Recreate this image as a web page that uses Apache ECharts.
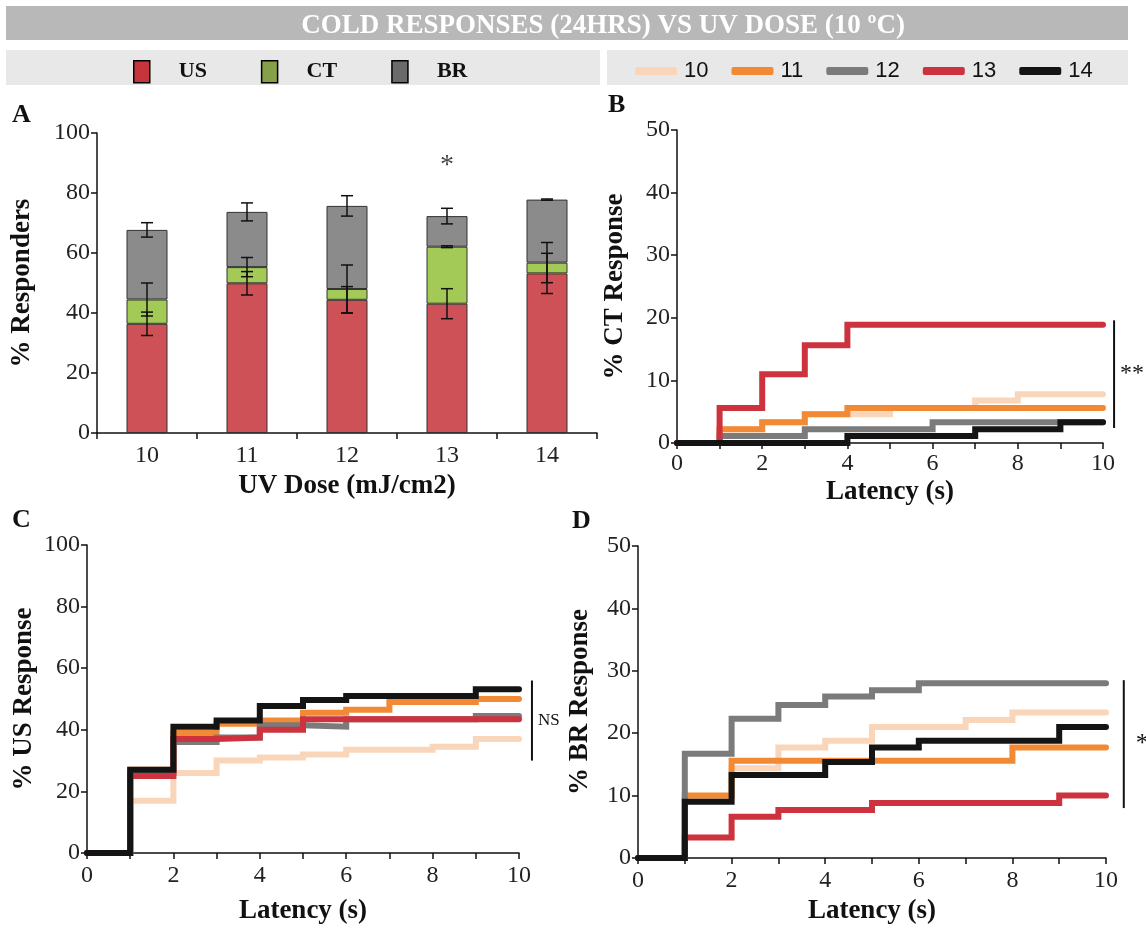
<!DOCTYPE html>
<html>
<head>
<meta charset="utf-8">
<script src="https://cdn.jsdelivr.net/npm/echarts@6/dist/echarts.min.js"></script>
<style>
  html, body { margin: 0; padding: 0; background: #fff; }
  #chart { width: 1146px; height: 930px; }
</style>
</head>
<body>
<div id="chart"></div>
<script>
// ---- data ----
const doses = ['10', '11', '12', '13', '14'];
// stacked % responders by response type
const usPct = [36.4, 49.9, 44.4, 43.1, 53.2];
const ctPct = [8.1, 5.4, 3.6, 19.0, 3.6];
const brPct = [23.2, 18.4, 27.7, 10.2, 21.0];
// error (+/-) of each stacked segment
const usErr = [3.9, 3.9, 4.4, 5.0, 6.7];
const ctErr = [5.5, 3.2, 8.0, 0.3, 6.7];
const brErr = [2.4, 3.0, 3.4, 2.6, 0.2];

// latency axis (s)
const latency = [0, 1, 2, 3, 4, 5, 6, 7, 8, 9, 10];
// cumulative % CT response per dose
const ct10 = [0, 2.2, 3.3, 4.6, 4.6, 5.6, 5.6, 6.8, 7.8, 7.8, 7.8];
const ct11 = [0, 2.2, 3.3, 4.6, 5.6, 5.6, 5.6, 5.6, 5.6, 5.6, 5.6];
const ct12 = [0, 1.1, 1.1, 2.2, 2.2, 2.2, 3.3, 3.3, 3.3, 3.3, 3.3];
const ct13 = [0, 5.6, 11.0, 15.6, 18.9, 18.9, 18.9, 18.9, 18.9, 18.9, 18.9];
const ct14 = [0, 0, 0, 0, 1.1, 1.1, 1.1, 2.2, 2.2, 3.3, 3.3];
// cumulative % US response per dose
const us10 = [0, 17, 26, 30, 31, 32, 33.5, 33.5, 34.5, 37, 37];
const us11 = [0, 27, 39, 42, 43, 45.5, 46.5, 49, 49, 50, 50];
const us12 = [0, 26, 36, 37.5, 41.5, 41, 43.4, 43.4, 43.4, 44.5, 44.5];
const us13 = [0, 25, 37, 37.5, 40, 43.4, 43.4, 43.4, 43.4, 43.4, 43.4];
const us14 = [0, 27, 41, 43, 47.7, 49.7, 51, 51, 51, 53.2, 53.2];
// cumulative % BR response per dose
const br10 = [0, 9.5, 14.4, 17.7, 18.8, 21, 21, 22.1, 23.3, 23.3, 23.3];
const br11 = [0, 10, 15.6, 15.6, 15.6, 15.6, 15.6, 15.6, 17.7, 17.7, 17.7];
const br12 = [0, 16.7, 22.3, 24.5, 25.9, 26.9, 28, 28, 28, 28, 28];
const br13 = [0, 3.3, 6.6, 7.7, 7.7, 8.8, 8.8, 8.8, 8.8, 10, 10];
const br14 = [0, 9.0, 13.3, 13.3, 15.4, 17.7, 18.8, 18.8, 18.8, 21, 21];

// ---- styles ----
const SERIF = '"Liberation Serif", "Times New Roman", serif';
const SANS = '"Liberation Sans", Arial, sans-serif';
const doseColors = { '10': '#f9d5b9', '11': '#f28a35', '12': '#7b7b7b', '13': '#cc333f', '14': '#141414' };
const axisLine = { show: true, lineStyle: { color: '#111', width: 1.5 } };
const axisTick = { show: true, length: 6, lineStyle: { color: '#111', width: 1.5 } };
const tickFont = { fontFamily: SERIF, fontSize: 24, color: '#222' };
const nameFont = { fontFamily: SERIF, fontSize: 27, fontWeight: 'bold', color: '#111' };

const chart = echarts.init(document.getElementById('chart'), null, { renderer: 'canvas' });

const pair = arr => latency.map((t, i) => [t, arr[i]]);

function stepSeries(name, arr, gridIdx) {
  return {
    type: 'line', name: name, step: 'end',
    xAxisIndex: gridIdx, yAxisIndex: gridIdx,
    data: pair(arr), showSymbol: false, symbol: 'none',
    color: doseColors[name],
    lineStyle: { width: 6, color: doseColors[name], cap: 'round', join: 'miter' },
    emphasis: { disabled: true }, animation: false
  };
}

function latencyX(gridIndex, nameGap, margin) {
  return {
    type: 'value', gridIndex: gridIndex, min: 0, max: 10, interval: 1,
    axisLine: axisLine, axisTick: axisTick, splitLine: { show: false },
    axisLabel: Object.assign({ margin: margin, formatter: v => (v % 2 === 0 ? String(v) : '') }, tickFont),
    name: 'Latency (s)', nameLocation: 'middle', nameGap: nameGap, nameTextStyle: nameFont
  };
}
function pctY(gridIndex, max, interval, name, nameGap) {
  return {
    type: 'value', gridIndex: gridIndex, min: 0, max: max, interval: interval,
    axisLine: axisLine, axisTick: axisTick, splitLine: { show: false },
    axisLabel: Object.assign({ margin: 7 }, tickFont),
    name: name, nameLocation: 'middle', nameGap: nameGap, nameRotate: 90, nameTextStyle: nameFont
  };
}

// error bars drawn through the category/value scales of grid A
const errData = [];
doses.forEach((d, i) => {
  errData.push([i, usPct[i], usErr[i]]);
  errData.push([i, usPct[i] + ctPct[i], ctErr[i]]);
  errData.push([i, usPct[i] + ctPct[i] + brPct[i], brErr[i]]);
});

const option = {
  backgroundColor: '#fff',
  animation: false,
  title: {
    text: 'COLD RESPONSES (24HRS) VS UV DOSE (10 ºC)',
    left: 598, top: 8, textAlign: 'center',
    textStyle: { fontFamily: SERIF, fontSize: 27, fontWeight: 'bold', color: '#fff' }
  },
  legend: [
    {
      left: 128, top: 55, orient: 'horizontal', itemGap: 54,
      itemWidth: 16, itemHeight: 22, icon: 'rect',
      textStyle: { fontFamily: SERIF, fontSize: 22, fontWeight: 'bold', color: '#111', padding: [0, 0, 0, 24] },
      data: [
        { name: 'US', itemStyle: { color: '#c8343c', borderColor: '#000', borderWidth: 1.5 } },
        { name: 'CT', itemStyle: { color: '#86a048', borderColor: '#000', borderWidth: 1.5 } },
        { name: 'BR', itemStyle: { color: '#6a6a6a', borderColor: '#000', borderWidth: 1.5 } }
      ],
      selectedMode: false
    },
    {
      left: 630, top: 55, orient: 'horizontal', itemGap: 23,
      itemWidth: 42, itemHeight: 8, icon: 'roundRect',
      textStyle: { fontFamily: SANS, fontSize: 22, color: '#111', padding: [0, 0, 0, 2] },
      data: doses,
      selectedMode: false
    }
  ],
  grid: [
    { left: 97, top: 133, width: 500, height: 300 },
    { left: 677, top: 130, width: 426, height: 313 },
    { left: 87, top: 545, width: 432, height: 308 },
    { left: 638, top: 546, width: 468, height: 312 }
  ],
  xAxis: [
    {
      type: 'category', gridIndex: 0, data: doses,
      axisLine: axisLine, axisTick: Object.assign({ alignWithLabel: false }, axisTick),
      axisLabel: Object.assign({ margin: 11 }, tickFont),
      name: 'UV Dose (mJ/cm2)', nameLocation: 'middle', nameGap: 40, nameTextStyle: nameFont
    },
    latencyX(1, 36, 9),
    latencyX(2, 45, 11),
    latencyX(3, 40, 11)
  ],
  yAxis: [
    pctY(0, 100, 20, '% Responders', 61),
    pctY(1, 50, 10, '% CT Response', 48),
    pctY(2, 100, 20, '% US Response', 49),
    pctY(3, 50, 10, '% BR Response', 44)
  ],
  series: [
    { type: 'bar', name: 'US', stack: 'resp', data: usPct, barWidth: 41, xAxisIndex: 0, yAxisIndex: 0,
      itemStyle: { color: '#cd5157', borderColor: '#333', borderWidth: 1 } },
    { type: 'bar', name: 'CT', stack: 'resp', data: ctPct, barWidth: 41, xAxisIndex: 0, yAxisIndex: 0,
      itemStyle: { color: '#a3c957', borderColor: '#333', borderWidth: 1 } },
    { type: 'bar', name: 'BR', stack: 'resp', data: brPct, barWidth: 41, xAxisIndex: 0, yAxisIndex: 0,
      itemStyle: { color: '#8b8b8b', borderColor: '#333', borderWidth: 1 } },
    {
      type: 'custom', name: 'error', xAxisIndex: 0, yAxisIndex: 0, data: errData, z: 5,
      renderItem: function (params, api) {
        const c = api.value(1), e = api.value(2);
        const top = api.coord([api.value(0), c + e]);
        const bot = api.coord([api.value(0), c - e]);
        const hw = 6, st = { stroke: '#111', lineWidth: 1.5 };
        return {
          type: 'group', children: [
            { type: 'line', shape: { x1: top[0], y1: top[1], x2: bot[0], y2: bot[1] }, style: st },
            { type: 'line', shape: { x1: top[0] - hw, y1: top[1], x2: top[0] + hw, y2: top[1] }, style: st },
            { type: 'line', shape: { x1: bot[0] - hw, y1: bot[1], x2: bot[0] + hw, y2: bot[1] }, style: st }
          ]
        };
      }
    },
    // significance mark above dose 13
    { type: 'scatter', name: 'sig', xAxisIndex: 0, yAxisIndex: 0, data: [[3, 89]], symbolSize: 0,
      label: { show: true, formatter: '*', position: 'inside', fontFamily: SERIF, fontSize: 28, color: '#111' } },

    stepSeries('10', ct10, 1), stepSeries('11', ct11, 1), stepSeries('12', ct12, 1), stepSeries('13', ct13, 1), stepSeries('14', ct14, 1),
    stepSeries('10', us10, 2), stepSeries('11', us11, 2), stepSeries('12', us12, 2), stepSeries('13', us13, 2), stepSeries('14', us14, 2),
    stepSeries('10', br10, 3), stepSeries('11', br11, 3), stepSeries('12', br12, 3), stepSeries('13', br13, 3), stepSeries('14', br14, 3)
  ]
};
chart.setOption(option);

// header bands, panel letters and significance brackets
function px(grid, pt) { return chart.convertToPixel({ gridIndex: grid }, pt); }
function bracket(grid, x, y0, y1, text, tdx, fontSize) {
  const a = px(grid, [x, y0]), b = px(grid, [x, y1]);
  return [
    { type: 'line', shape: { x1: a[0], y1: a[1], x2: b[0], y2: b[1] }, style: { stroke: '#111', lineWidth: 2 } },
    { type: 'text', x: a[0] + tdx, y: (a[1] + b[1]) / 2, style: { text: text, fontFamily: SERIF, fontSize: fontSize, fill: '#111', verticalAlign: 'middle' } }
  ];
}
const letter = (t, x, y) => ({ type: 'text', x: x, y: y, style: { text: t, fontFamily: SERIF, fontSize: 26, fontWeight: 'bold', fill: '#111' } });

chart.setOption({
  graphic: [
    { type: 'rect', z: -10, shape: { x: 6, y: 6, width: 1122, height: 34 }, style: { fill: '#b8b8b8' } },
    { type: 'rect', z: -10, shape: { x: 6, y: 50, width: 594, height: 35 }, style: { fill: '#e8e8e8' } },
    { type: 'rect', z: -10, shape: { x: 607, y: 50, width: 521, height: 35 }, style: { fill: '#e8e8e8' } },
    letter('A', 12, 102), letter('B', 608, 92), letter('C', 12, 507), letter('D', 572, 508),
    ...bracket(1, 10.26, 19.6, 2.4, '**', 6, 24),
    ...bracket(2, 10.3, 56, 30, 'NS', 6, 17),
    ...bracket(3, 10.38, 28.5, 8, '*', 12, 26)
  ]
});
</script>
</body>
</html>
